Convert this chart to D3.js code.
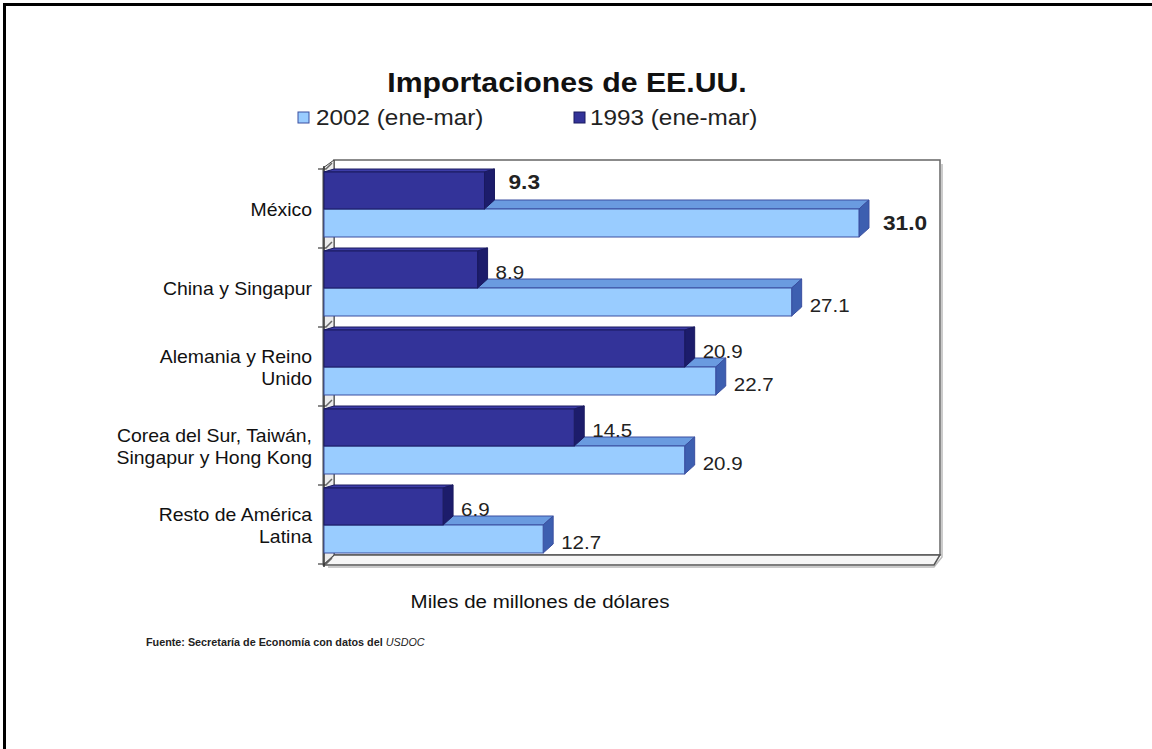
<!DOCTYPE html>
<html>
<head>
<meta charset="utf-8">
<script src="https://cdn.jsdelivr.net/npm/d3@7"></script>
<style>
  html, body { margin: 0; padding: 0; background: #ffffff; }
  svg { display: block; font-family: "Liberation Sans", Arial, sans-serif; }
</style>
</head>
<body>
<svg id="chart" width="1152" height="749"></svg>
<script>
// ---- data ----
const categories = ["México", "China y Singapur", "Alemania y Reino Unido", "Corea del Sur, Taiwán, Singapur y Hong Kong", "Resto de América Latina"];
const categoryLines = [["México"], ["China y Singapur"], ["Alemania y Reino", "Unido"], ["Corea del Sur, Taiwán,", "Singapur y Hong Kong"], ["Resto de América", "Latina"]];
const seriesNames = ["2002 (ene-mar)", "1993 (ene-mar)"];
const values2002 = [31.0, 27.1, 22.7, 20.9, 12.7];
const values1993 = [9.3, 8.9, 20.9, 14.5, 6.9];
const boldLabels = [true, false, false, false, false];
const titleText = "Importaciones de EE.UU.";
const axisTitle = "Miles de millones de dólares";
const sourceText = "Fuente: Secretaría de Economía con datos del ";
const sourceItalic = "USDOC";

// ---- setup ----
const svg = d3.select("#chart");
const SX = 1.08; // horizontal stretch of the original slide text

function txt(g, x, y, s, opts) {
  opts = opts || {};
  const t = g.append("text")
    .attr("transform", `translate(${x},${y}) scale(${SX},1)`)
    .attr("x", 0).attr("y", 0)
    .attr("text-anchor", opts.anchor || "start")
    .attr("font-size", opts.size || 18)
    .attr("font-weight", opts.weight || "normal")
    .attr("fill", opts.fill || "#111");
  t.text(s);
  return t;
}

// frame
svg.append("line").attr("x1", 3).attr("x2", 1152).attr("y1", 4.5).attr("y2", 4.5).attr("stroke", "#000").attr("stroke-width", 3);
svg.append("line").attr("x1", 4.5).attr("x2", 4.5).attr("y1", 3).attr("y2", 749).attr("stroke", "#000").attr("stroke-width", 3);

// scales
const x = d3.scaleLinear().domain([0, 35]).range([324, 928]);
const y = d3.scaleBand().domain(categories).range([165, 560]).paddingInner(0).paddingOuter(0);
const DX = 10, DY = 9; // depth offset
const x0 = x(0);
const wallTop = 160, wallBottom = 555, wallRight = 940;

// wall shadow
svg.append("path")
  .attr("d", `M${wallRight + 2},${wallTop + 4} L${wallRight + 2},${wallBottom + 2} L${wallRight - 6},${wallBottom + 12} L${x0 + 4},${wallBottom + 12}`)
  .attr("fill", "none").attr("stroke", "#bbb").attr("stroke-width", 1.5);
// back wall
svg.append("rect").attr("x", x0 + DX).attr("y", wallTop).attr("width", wallRight - x0 - DX).attr("height", wallBottom - wallTop)
  .attr("fill", "#fff").attr("stroke", "#666").attr("stroke-width", 1.5);
// floor
svg.append("path")
  .attr("d", `M${x0},${wallBottom + 10} L${x0 + DX},${wallBottom} L${wallRight},${wallBottom} L${wallRight - 6},${wallBottom + 10} Z`)
  .attr("fill", "#f6f6f6").attr("stroke", "#555").attr("stroke-width", 1.5);
// left wall
svg.append("path")
  .attr("d", `M${x0 - 1},${wallTop + 8} L${x0 + DX},${wallTop} L${x0 + DX},${wallBottom} L${x0 - 1},${wallBottom + 10} Z`)
  .attr("fill", "#ececec").attr("stroke", "#444").attr("stroke-width", 1);

// category tick marks
const tickYs = categories.map(c => y(c)).concat([y.range()[1]]);
svg.selectAll(".tick").data(tickYs).enter().append("path")
  .attr("d", d => `M${x0 - 6},${d + 4} L${x0 + 2},${d + 4} L${x0 + 8},${d - 2}`)
  .attr("fill", "none").attr("stroke", "#666").attr("stroke-width", 1.5);
svg.append("line").attr("x1", x0).attr("x2", x0).attr("y1", wallTop + 6).attr("y2", wallBottom + 12).attr("stroke", "#333").attr("stroke-width", 1.5);

// bars
const darkFront = "#333399", darkTop = "#3d3da8", darkSide = "#1c1c6b", darkStroke = "#1a1a60";
const lightFront = "#99ccff", lightTop = "#6a9be0", lightSide = "#3d5fb0", lightStroke = "#3a4fa0";

function bar3d(g, xEnd, yTop, h, dTop, colors) {
  const xs = x0, xe = xEnd;
  g.append("path").attr("d", `M${xs},${yTop} L${xs + DX},${yTop - dTop} L${xe + DX},${yTop - dTop} L${xe},${yTop} Z`)
    .attr("fill", colors.top).attr("stroke", colors.stroke).attr("stroke-width", 1);
  g.append("path").attr("d", `M${xe},${yTop} L${xe + DX},${yTop - dTop} L${xe + DX},${yTop + h - DY} L${xe},${yTop + h} Z`)
    .attr("fill", colors.side).attr("stroke", colors.stroke).attr("stroke-width", 1);
  g.append("rect").attr("x", xs).attr("y", yTop).attr("width", xe - xs).attr("height", h)
    .attr("fill", colors.front).attr("stroke", colors.stroke).attr("stroke-width", 1);
}

const barsG = svg.append("g");
categories.forEach((c, i) => {
  const bt = y(c);
  const g = barsG.append("g");
  bar3d(g, x(values2002[i]), bt + 44, 28, DY, {front: lightFront, top: lightTop, side: lightSide, stroke: lightStroke});
  bar3d(g, x(values1993[i]), bt + 7, 37, 3, {front: darkFront, top: darkTop, side: darkSide, stroke: darkStroke});
});

// value labels
const labG = svg.append("g");
categories.forEach((c, i) => {
  const bt = y(c);
  const b = boldLabels[i];
  const sz = b ? 21 : 19, wt = b ? "bold" : "normal", dx = b ? 24 : 18;
  txt(labG, x(values1993[i]) + dx, bt + (b ? 24 : 35), values1993[i].toFixed(1), {size: sz, weight: wt, fill: "#222"});
  txt(labG, x(values2002[i]) + dx, bt + (b ? 65 : 68), values2002[i].toFixed(1), {size: sz, weight: wt, fill: "#222"});
});

// category labels
const catG = svg.append("g");
categories.forEach((c, i) => {
  const lines = categoryLines[i];
  const cy = y(c) + y.bandwidth() / 2;
  const lh = 22;
  lines.forEach((ln, j) => {
    const yy = cy + 11 + (j - (lines.length - 1) / 2) * lh;
    txt(catG, 312, yy, ln, {size: 18, anchor: "end", fill: "#111"});
  });
});

// title
txt(svg, 567, 92, titleText, {size: 28, weight: "bold", anchor: "middle", fill: "#111"});

// legend
const legG = svg.append("g");
const legItems = [
  {name: seriesNames[0], fill: lightFront, stroke: lightStroke, sx: 298, tx: 316},
  {name: seriesNames[1], fill: darkFront, stroke: darkStroke, sx: 574, tx: 590}
];
legItems.forEach(d => {
  legG.append("rect").attr("x", d.sx).attr("y", 112).attr("width", 11).attr("height", 11)
    .attr("fill", d.fill).attr("stroke", d.stroke).attr("stroke-width", 1);
  txt(legG, d.tx, 125, d.name, {size: 22.5, fill: "#222"});
});

// axis title
txt(svg, 540, 608, axisTitle, {size: 19, anchor: "middle", fill: "#111"});

// source
const src = svg.append("text")
  .attr("transform", `translate(146,646) scale(${SX},1)`)
  .attr("font-size", 10).attr("font-weight", "bold").attr("fill", "#222");
src.append("tspan").text(sourceText);
src.append("tspan").attr("font-style", "italic").attr("font-weight", "normal").text(sourceItalic);
</script>
</body>
</html>
